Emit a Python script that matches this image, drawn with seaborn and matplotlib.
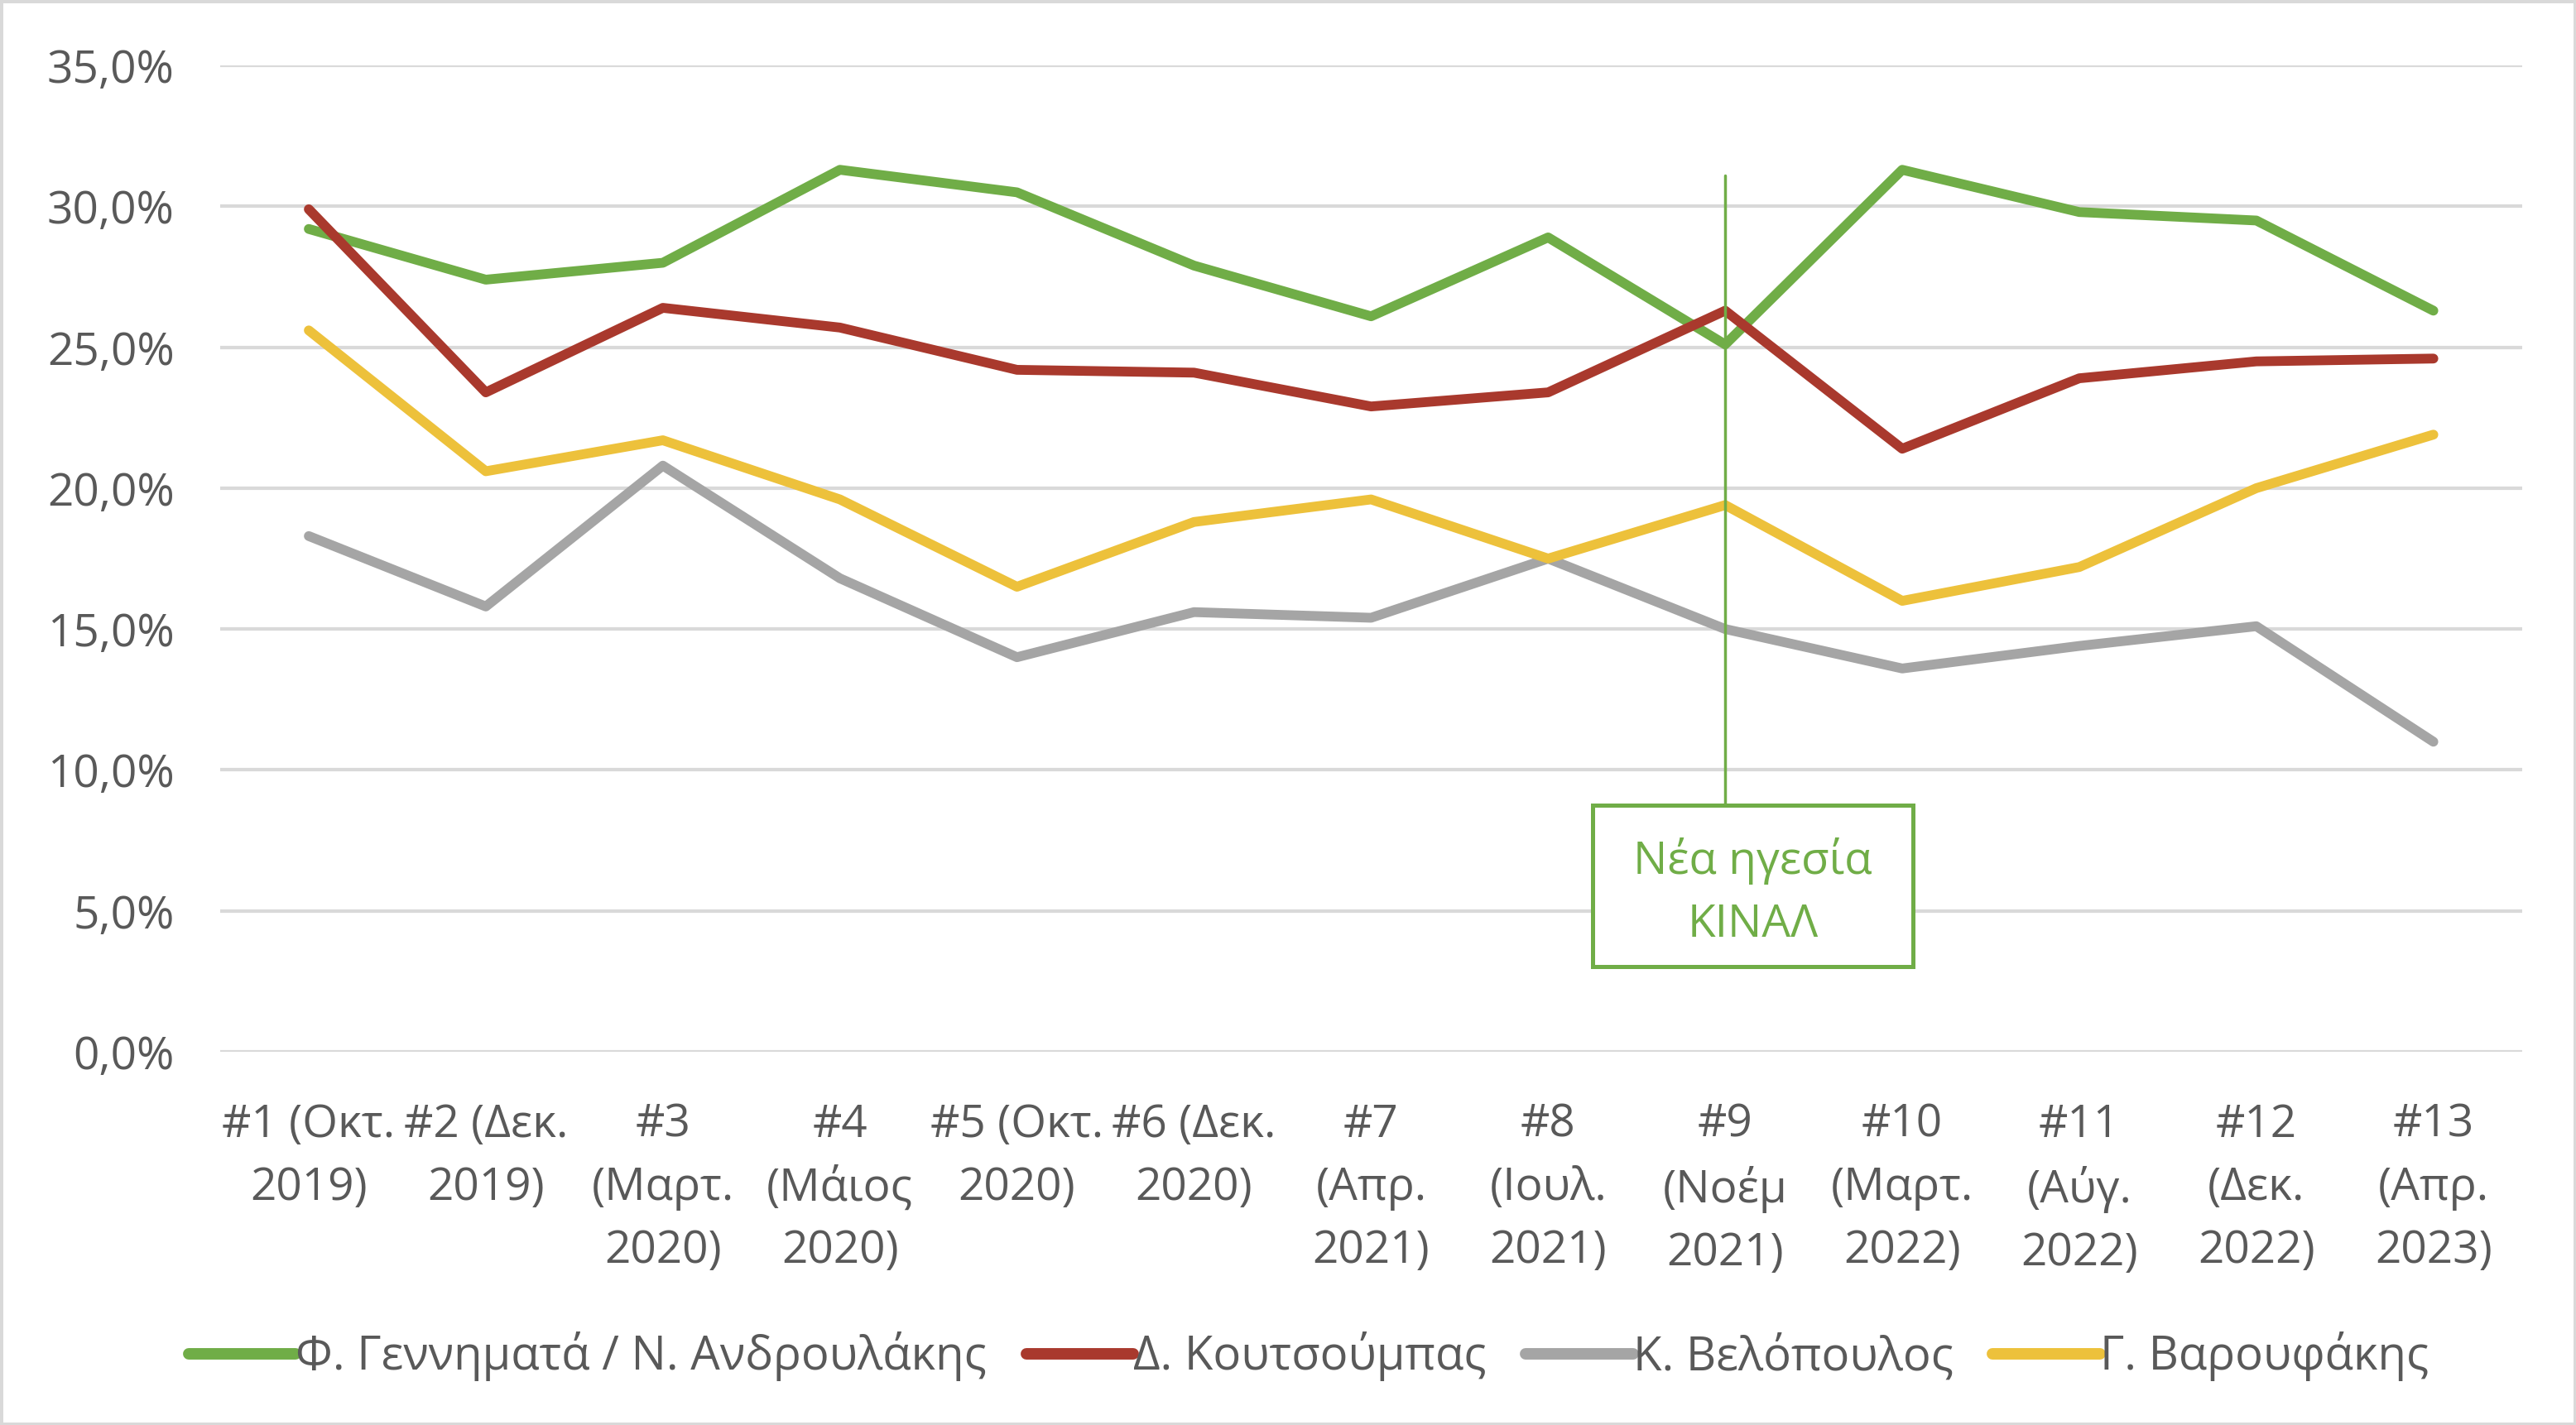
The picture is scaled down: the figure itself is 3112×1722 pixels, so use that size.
import pandas as pd
import matplotlib.pyplot as plt
import matplotlib.patches as mpatches
from matplotlib.ticker import FuncFormatter
import seaborn as sns

sns.set_theme(style="white")
plt.rcParams['font.family'] = ['Open Sans', 'DejaVu Sans']

# survey waves (x axis)
waves = ['#1 (Οκτ.\n2019)', '#2 (Δεκ.\n2019)', '#3\n(Μαρτ.\n2020)',
         '#4\n(Μάιος\n2020)', '#5 (Οκτ.\n2020)', '#6 (Δεκ.\n2020)',
         '#7\n(Απρ.\n2021)', '#8\n(Ιουλ.\n2021)', '#9\n(Νοέμ\n2021)',
         '#10\n(Μαρτ.\n2022)', '#11\n(Αύγ.\n2022)', '#12\n(Δεκ.\n2022)',
         '#13\n(Απρ.\n2023)']

leaders = ['Φ. Γεννηματά / Ν. Ανδρουλάκης', 'Δ. Κουτσούμπας',
           'Κ. Βελόπουλος', 'Γ. Βαρουφάκης']

gennimata = [29.2, 27.4, 28.0, 31.3, 30.5, 27.9, 26.1, 28.9, 25.1, 31.3,
             29.8, 29.5, 26.3]
koutsoumpas = [29.9, 23.4, 26.4, 25.7, 24.2, 24.1, 22.9, 23.4, 26.3, 21.4,
               23.9, 24.5, 24.6]
velopoulos = [18.3, 15.8, 20.8, 16.8, 14.0, 15.6, 15.4, 17.5, 15.0, 13.6,
              14.4, 15.1, 11.0]
varoufakis = [25.6, 20.6, 21.7, 19.6, 16.5, 18.8, 19.6, 17.5, 19.4, 16.0,
              17.2, 20.0, 21.9]

colors = ['#70AD47', '#A9392D', '#A5A5A5', '#EDC13B']

# annotation: new PASOK-KINAL leadership at wave #9
event_wave = 8
event_text = 'Νέα ηγεσία\nΚΙΝΑΛ'


def build_frame():
    '''
    Long-form table for seaborn.
    '''
    rows = []
    for name, vals in zip(leaders, [gennimata, koutsoumpas,
                                     velopoulos, varoufakis]):
        for i, v in enumerate(vals):
            rows.append({'wave': i, 'value': v, 'leader': name})
    return pd.DataFrame(rows)


def main():
    df = build_frame()
    text_color = '#595959'
    fs = 39.5
    fig = plt.figure(figsize=(31.12, 17.22), dpi=100)
    fig.patch.set_edgecolor('#D9D9D9')
    fig.patch.set_linewidth(5)
    ax = fig.add_axes([0.0855, 0.262, 0.8935, 0.692])

    sns.lineplot(data=df, x='wave', y='value', hue='leader',
                 hue_order=leaders, palette=colors, linewidth=8.5,
                 ax=ax, legend=False, zorder=3)

    ax.set_xlim(-0.5, len(waves) - 0.5)
    ax.set_ylim(0, 35)
    ax.set_yticks(range(0, 36, 5))
    ax.yaxis.set_major_formatter(
        FuncFormatter(lambda v, p: f'{v:.1f}'.replace('.', ',') + '%'))
    ax.set_xticks(range(len(waves)))
    ax.set_xticklabels(waves, linespacing=1.5)
    ax.set_xlabel('')
    ax.set_ylabel('')
    ax.grid(axis='y', color='#D9D9D9', linewidth=3, zorder=0)
    ax.set_axisbelow(True)
    sns.despine(ax=ax, left=True, bottom=True)
    ax.tick_params(axis='y', length=0, pad=40, labelsize=fs,
                   labelcolor=text_color)
    ax.tick_params(axis='x', length=0, pad=44, labelsize=fs,
                   labelcolor=text_color)

    # vertical marker and label box
    ax.plot([event_wave, event_wave], [8.74, 31.1], color='#70AD47',
            linewidth=2.5, zorder=4)
    box = mpatches.Rectangle((7.25, 3.03), 1.81, 5.71, facecolor='white',
                             edgecolor='#70AD47', linewidth=3.6, zorder=5)
    ax.add_patch(box)
    ax.text(8.155, 5.65, event_text, ha='center', va='center', fontsize=fs,
            color='#70AD47', linespacing=1.5, zorder=6)

    handles = [plt.Line2D([0], [0], color=c, linewidth=10,
                          solid_capstyle='round') for c in colors]
    fig.legend(handles, leaders, loc='center', bbox_to_anchor=(0.508, 0.048),
               ncol=4, frameon=False, fontsize=40.5, handlelength=2.3,
               handletextpad=0.0, columnspacing=0.85, labelcolor=text_color)

    fig.savefig('out.png', dpi=100)


if __name__ == '__main__':
    main()
